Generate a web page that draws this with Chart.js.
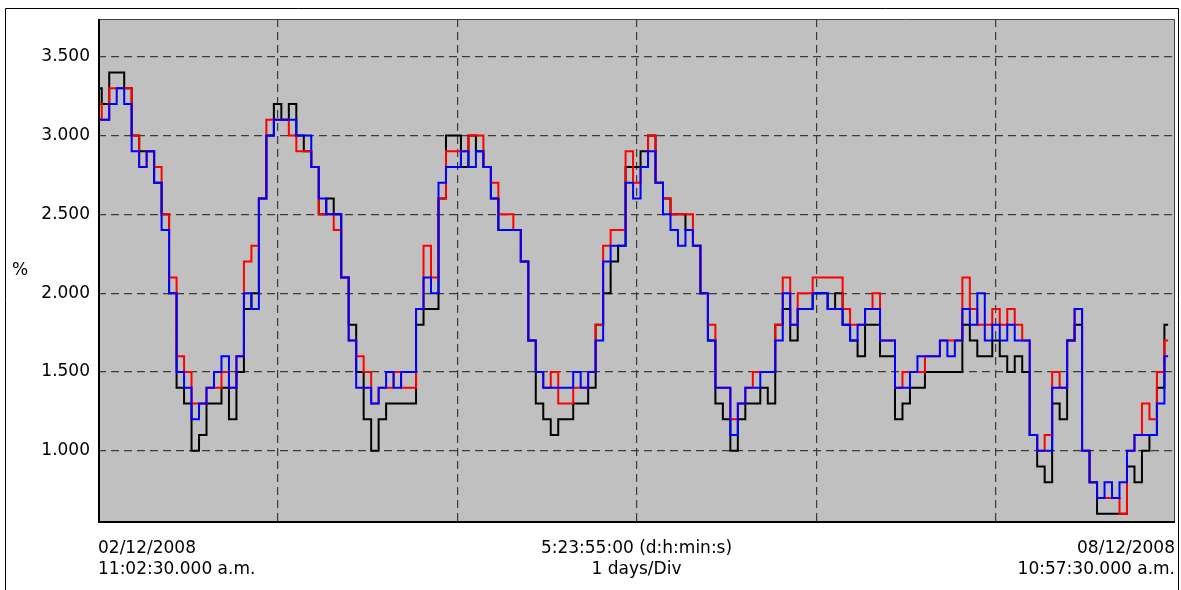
<!DOCTYPE html>
<html>
<head>
<meta charset="utf-8">
<script src="https://cdn.jsdelivr.net/npm/chart.js@4.4.1/dist/chart.umd.min.js"></script>
<style>
html, body { margin: 0; padding: 0; background: #fff; }
</style>
</head>
<body>
<canvas id="trendChart" width="1181" height="590"></canvas>
<script>
// sample time in hours from 02/12/2008 11:02:30
var hours = [];
for (var h = 0; h < 144; h++) hours.push(h);

var blackSeries = [
  3.3,3.2,3.4,3.4,3.3,3.0,2.9,2.9,2.7,2.5,2.0,1.4,1.3,1.0,1.1,1.3,1.3,1.4,1.2,1.5,1.9,2.0,2.6,3.0,
  3.2,3.1,3.2,3.0,2.9,2.8,2.5,2.6,2.5,2.1,1.8,1.5,1.2,1.0,1.2,1.3,1.3,1.3,1.3,1.8,1.9,1.9,2.6,3.0,
  3.0,2.8,3.0,2.9,2.8,2.6,2.4,2.4,2.4,2.2,1.7,1.3,1.2,1.1,1.2,1.2,1.3,1.3,1.4,1.8,2.0,2.2,2.3,2.8,
  2.8,2.9,3.0,2.7,2.6,2.5,2.5,2.4,2.3,2.0,1.7,1.3,1.2,1.0,1.2,1.3,1.3,1.4,1.3,1.8,1.9,1.7,1.9,1.9,
  2.0,2.0,1.9,2.0,1.8,1.7,1.6,1.8,1.8,1.6,1.6,1.2,1.3,1.4,1.4,1.5,1.5,1.5,1.5,1.5,1.8,1.7,1.6,1.6,
  1.7,1.6,1.5,1.6,1.5,1.1,0.9,0.8,1.3,1.2,1.7,1.8,1.0,0.8,0.6,0.6,0.6,0.6,0.9,0.8,1.0,1.1,1.4,1.8
];
var redSeries = [
  3.2,3.1,3.3,3.3,3.3,3.0,2.8,2.9,2.8,2.5,2.1,1.6,1.5,1.3,1.3,1.4,1.4,1.5,1.4,1.6,2.2,2.3,2.6,3.1,
  3.1,3.1,3.0,2.9,2.9,2.8,2.5,2.5,2.4,2.1,1.7,1.6,1.5,1.3,1.4,1.4,1.5,1.4,1.4,1.9,2.3,2.1,2.6,2.9,
  2.9,2.9,3.0,3.0,2.8,2.7,2.5,2.5,2.4,2.2,1.7,1.5,1.4,1.5,1.3,1.3,1.4,1.4,1.5,1.8,2.3,2.4,2.4,2.9,
  2.7,2.8,3.0,2.7,2.6,2.5,2.5,2.5,2.3,2.0,1.8,1.4,1.4,1.2,1.3,1.4,1.5,1.5,1.5,1.8,2.1,1.8,2.0,2.0,
  2.1,2.1,2.1,2.1,1.9,1.8,1.8,1.9,2.0,1.7,1.7,1.4,1.5,1.5,1.5,1.6,1.6,1.7,1.7,1.7,2.1,1.9,1.8,1.8,
  1.9,1.8,1.9,1.8,1.7,1.1,1.0,1.1,1.5,1.4,1.7,1.9,1.0,0.8,0.7,0.7,0.7,0.6,1.0,1.1,1.3,1.2,1.5,1.7
];
var blueSeries = [
  3.1,3.1,3.2,3.3,3.2,2.9,2.8,2.9,2.7,2.4,2.0,1.5,1.4,1.2,1.3,1.4,1.5,1.6,1.4,1.6,2.0,1.9,2.6,3.0,
  3.1,3.1,3.1,3.0,3.0,2.8,2.6,2.5,2.5,2.1,1.7,1.4,1.4,1.3,1.4,1.5,1.4,1.5,1.5,1.9,2.1,2.0,2.7,2.8,
  2.8,2.9,2.8,2.9,2.8,2.6,2.4,2.4,2.4,2.2,1.7,1.5,1.4,1.4,1.4,1.4,1.5,1.4,1.5,1.7,2.2,2.3,2.3,2.7,
  2.6,2.8,2.9,2.7,2.5,2.4,2.3,2.4,2.3,2.0,1.7,1.4,1.4,1.1,1.3,1.4,1.4,1.5,1.5,1.7,2.0,1.8,1.9,1.9,
  2.0,2.0,1.9,1.9,1.8,1.7,1.8,1.9,1.9,1.7,1.7,1.4,1.4,1.5,1.6,1.6,1.6,1.7,1.6,1.7,1.9,1.8,2.0,1.7,
  1.8,1.7,1.8,1.7,1.7,1.1,1.0,1.0,1.4,1.4,1.7,1.9,1.0,0.8,0.7,0.8,0.7,0.8,1.0,1.1,1.1,1.1,1.3,1.6
];

var yTicks = [1.0, 1.5, 2.0, 2.5, 3.0, 3.5];
var dayTicks = [1, 2, 3, 4, 5];
var startLabel = ['02/12/2008', '11:02:30.000 a.m.'];
var spanLabel = ['5:23:55:00 (d:h:min:s)', '1 days/Div'];
var endLabel = ['08/12/2008', '10:57:30.000 a.m.'];
var unitLabel = '%';

function toPoints(values) {
  return values.map(function (v, i) { return { x: hours[i] / 24, y: v }; });
}

Chart.defaults.font.family = 'DejaVu Sans';
Chart.defaults.font.size = 17;
Chart.defaults.color = '#000';

var ctx = document.getElementById('trendChart').getContext('2d');

// gray plot area, borders, corner texts
var plotDecor = {
  id: 'plotDecor',
  beforeDraw: function (chart) {
    var a = chart.chartArea, c = chart.ctx;
    c.save();
    c.fillStyle = '#c0c0c0';
    c.fillRect(a.left, a.top, a.right - a.left, a.bottom - a.top);
    c.restore();
  },
  afterDraw: function (chart) {
    var a = chart.chartArea, c = chart.ctx;
    c.save();
    // outer frame
    c.strokeStyle = '#000';
    c.lineWidth = 1;
    c.beginPath();
    c.moveTo(5.5, 590);
    c.lineTo(5.5, 8.5);
    c.lineTo(1178.5, 8.5);
    c.lineTo(1178.5, 590);
    c.stroke();
    // plot frame
    c.strokeStyle = '#404040';
    c.beginPath();
    c.moveTo(a.left, a.top + 0.5);
    c.lineTo(a.right - 0.5, a.top + 0.5);
    c.lineTo(a.right - 0.5, a.bottom);
    c.stroke();
    c.strokeStyle = '#000';
    c.lineWidth = 2;
    c.beginPath();
    c.moveTo(a.left + 1, a.top);
    c.lineTo(a.left + 1, a.bottom - 1);
    c.lineTo(a.right, a.bottom - 1);
    c.stroke();
    // texts
    c.fillStyle = '#000';
    c.font = '17px "DejaVu Sans"';
    c.textBaseline = 'alphabetic';
    c.textAlign = 'left';
    c.fillText(startLabel[0], a.left, 553);
    c.fillText(startLabel[1], a.left, 574);
    c.textAlign = 'center';
    var mid = (a.left + a.right) / 2;
    c.fillText(spanLabel[0], mid, 553);
    c.fillText(spanLabel[1], mid, 574);
    c.textAlign = 'right';
    c.fillText(endLabel[0], a.right, 553);
    c.fillText(endLabel[1], a.right, 574);
    c.textAlign = 'center';
    c.textBaseline = 'middle';
    c.fillText(unitLabel, 20, (a.top + a.bottom) / 2);
    c.restore();
  }
};

var lineChart = new Chart(ctx, {
  type: 'line',
  data: {
    datasets: [
      { data: toPoints(blueSeries), borderColor: '#0000ff', order: 1 },
      { data: toPoints(redSeries), borderColor: '#ff0000', order: 2 },
      { data: toPoints(blackSeries), borderColor: '#000000', order: 3 }
    ]
  },
  options: {
    responsive: false,
    animation: false,
    layout: { padding: { top: 19, right: 6, bottom: 0, left: 0 } },
    elements: {
      line: { borderWidth: 2, stepped: 'middle', tension: 0 },
      point: { radius: 0 }
    },
    plugins: { legend: { display: false }, tooltip: { enabled: false } },
    scales: {
      x: {
        type: 'linear',
        min: 0,
        max: 5.9965,
        afterBuildTicks: function (s) { s.ticks = dayTicks.map(function (v) { return { value: v }; }); },
        afterFit: function (s) { s.height = 67; s.paddingLeft = 0; s.paddingRight = 0; },
        ticks: { display: false },
        grid: { color: '#3a3a3a', lineWidth: 1.2, drawTicks: false },
        border: { display: false, dash: [8, 5] }
      },
      y: {
        min: 0.542,
        max: 3.739,
        afterBuildTicks: function (s) { s.ticks = yTicks.map(function (v) { return { value: v }; }); },
        afterFit: function (s) { s.width = 98; s.paddingTop = 0; s.paddingBottom = 0; },
        ticks: {
          padding: 8,
          callback: function (v) { return Number(v).toFixed(3); }
        },
        grid: { color: '#3a3a3a', lineWidth: 1.2, drawTicks: false },
        border: { display: false, dash: [8, 5] }
      }
    }
  },
  plugins: [plotDecor]
});
</script>
</body>
</html>
